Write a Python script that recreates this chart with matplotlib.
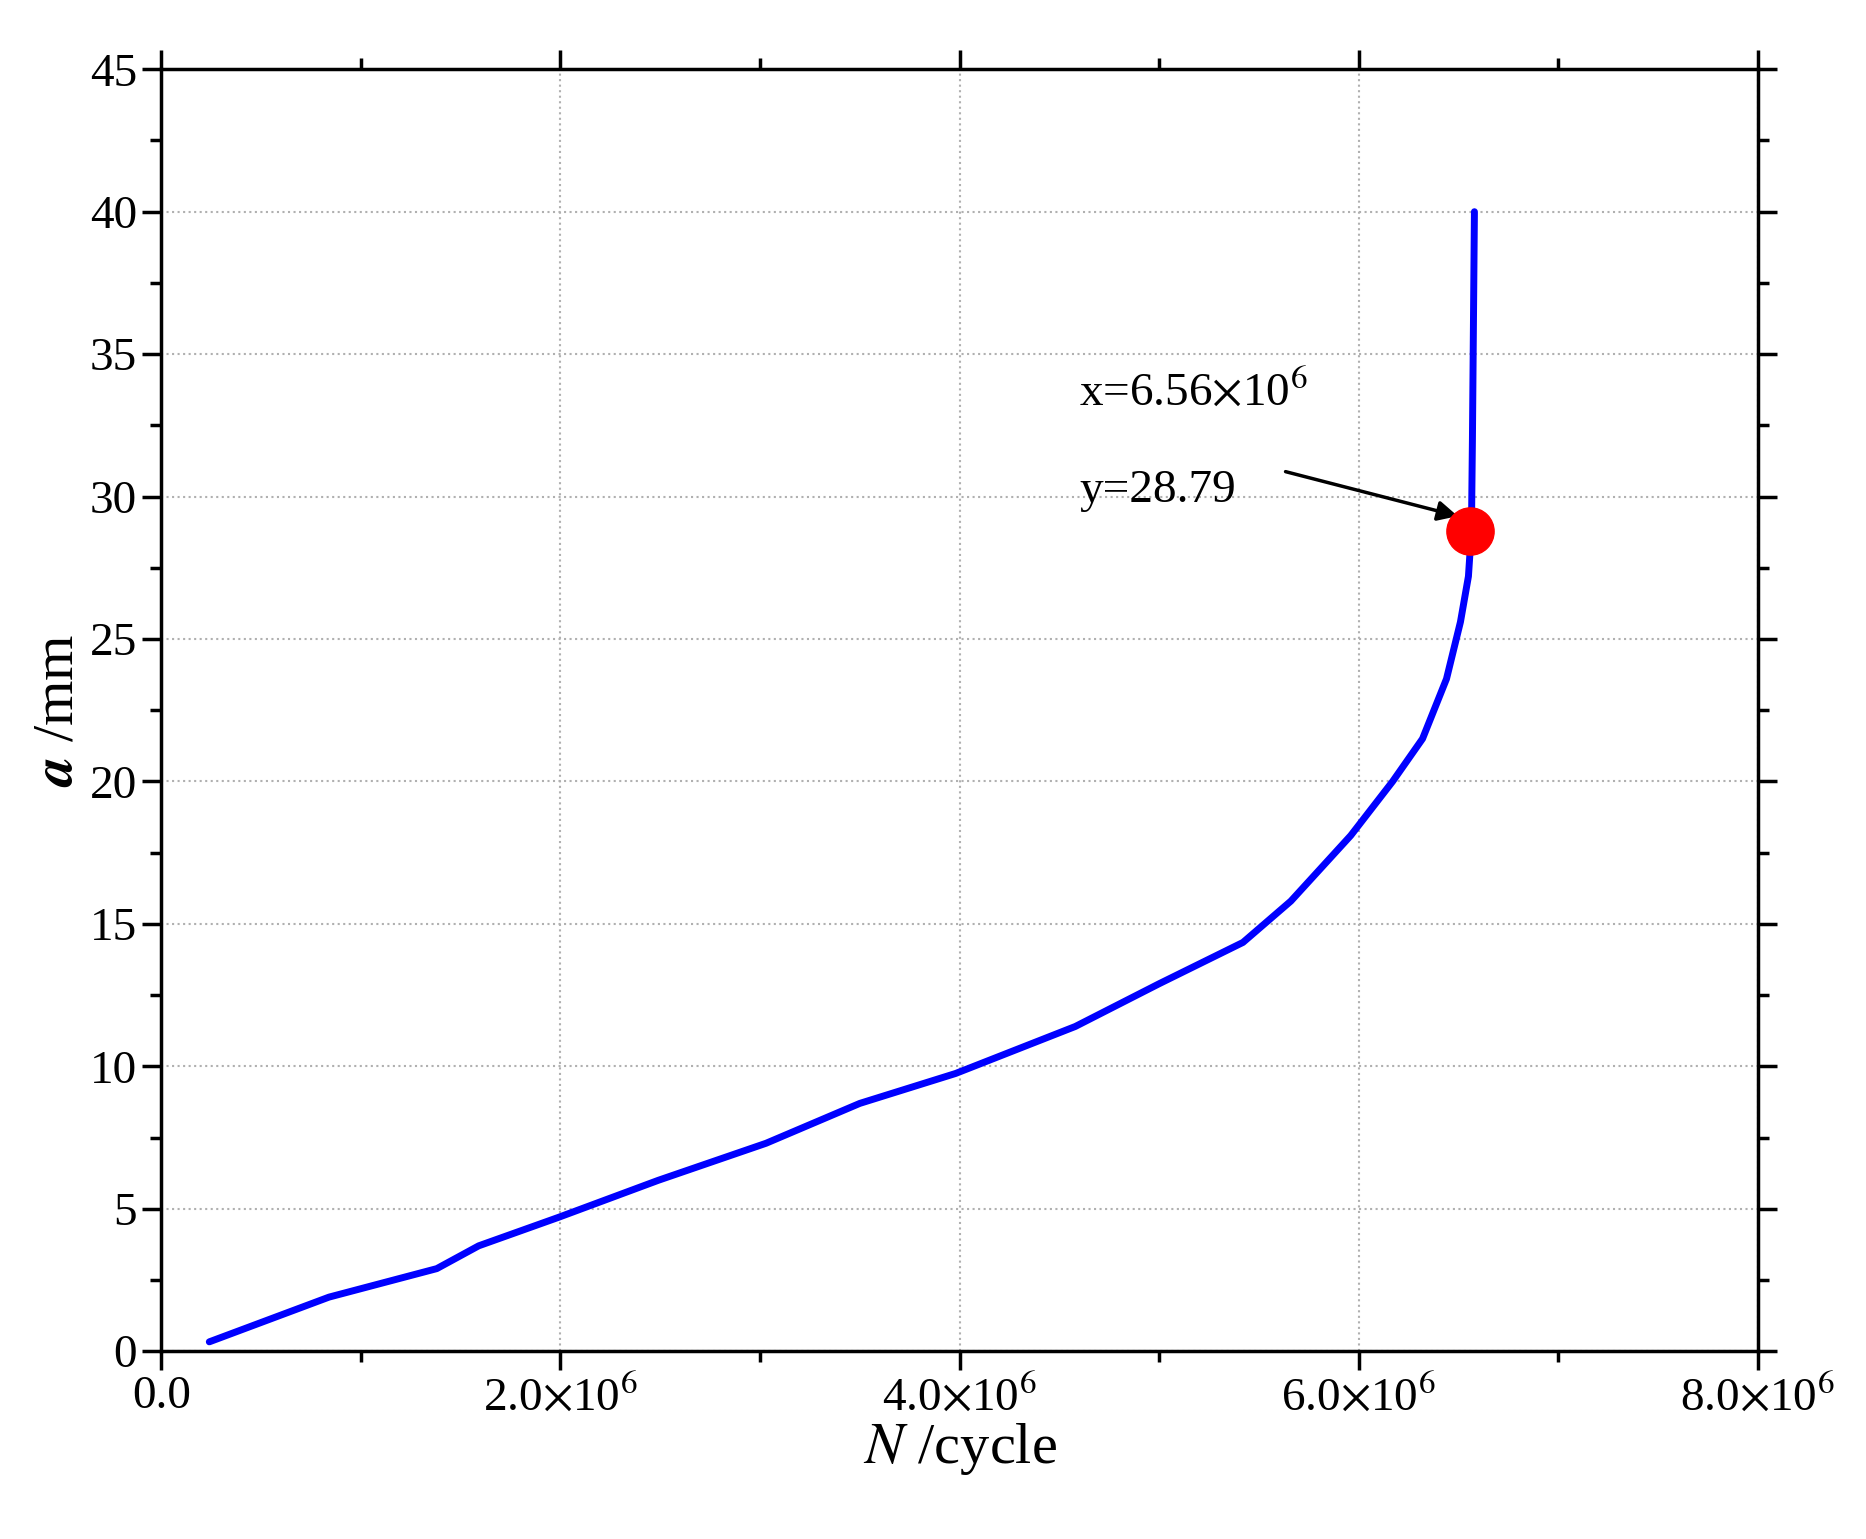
import matplotlib
matplotlib.use("Agg")
import matplotlib.pyplot as plt
from matplotlib.ticker import MultipleLocator, FixedLocator

N = [0.24e6, 0.84e6, 1.38e6, 1.59e6, 1.99e6, 2.49e6, 3.03e6, 3.5e6, 3.98e6, 4.58e6,
     5.0e6, 5.42e6, 5.66e6, 5.96e6, 6.17e6, 6.32e6, 6.44e6, 6.51e6, 6.55e6, 6.565e6, 6.57e6, 6.58e6]
a = [0.33, 1.9, 2.9, 3.7, 4.7, 6.0, 7.3, 8.7, 9.75, 11.4,
     12.9, 14.35, 15.8, 18.1, 20.0, 21.5, 23.6, 25.6, 27.2, 28.79, 32.0, 40.0]
pt_x, pt_y = 6.56e6, 28.79
xtick_vals = [0, 2e6, 4e6, 6e6, 8e6]
xtick_labels = ["0.0", r"2.0$\times$10$^6$", r"4.0$\times$10$^6$", r"6.0$\times$10$^6$", r"8.0$\times$10$^6$"]

plt.rcParams['font.family'] = ['Liberation Serif', 'DejaVu Serif']
plt.rcParams['mathtext.fontset'] = 'stix'
fig = plt.figure(figsize=(18.66, 15.39), dpi=100)
ax = fig.add_axes([0.0865, 0.122, 0.8555, 0.833])
ax.plot(N, a, color='#0000ff', lw=5, solid_joinstyle='round', solid_capstyle='round')
ax.plot([pt_x], [pt_y], 'o', color='red', ms=34, zorder=5)
ax.annotate("", xy=(pt_x - 0.05e6, pt_y + 0.5), xytext=(5.62e6, 30.9),
            arrowprops=dict(arrowstyle='-|>', color='black', lw=2.5, mutation_scale=30))
ax.text(4.6e6, 33.2, r"x=6.56$\times$10$^6$", fontsize=34)
ax.text(4.6e6, 29.8, "y=28.79", fontsize=34)
ax.set_xlim(0, 8e6)
ax.set_ylim(0, 45)
ax.xaxis.set_major_locator(FixedLocator(xtick_vals))
ax.set_xticklabels(xtick_labels)
ax.xaxis.set_minor_locator(MultipleLocator(1e6))
ax.yaxis.set_major_locator(MultipleLocator(5))
ax.yaxis.set_minor_locator(MultipleLocator(2.5))
ax.grid(True, which='major', color='#b0b0b0', ls=':', lw=1.5)
ax.tick_params(which='both', direction='out', top=True, right=True, width=2.5, labelsize=34)
ax.tick_params(which='major', length=14)
ax.tick_params(which='minor', length=8)
for s in ax.spines.values():
    s.set_linewidth(2.5)
ax.set_xlabel(r"$N$ /cycle", fontsize=42, labelpad=0)
ax.set_ylabel(r"$\boldsymbol{a}$ /mm", fontsize=42)
fig.savefig("out.png", dpi=100)
